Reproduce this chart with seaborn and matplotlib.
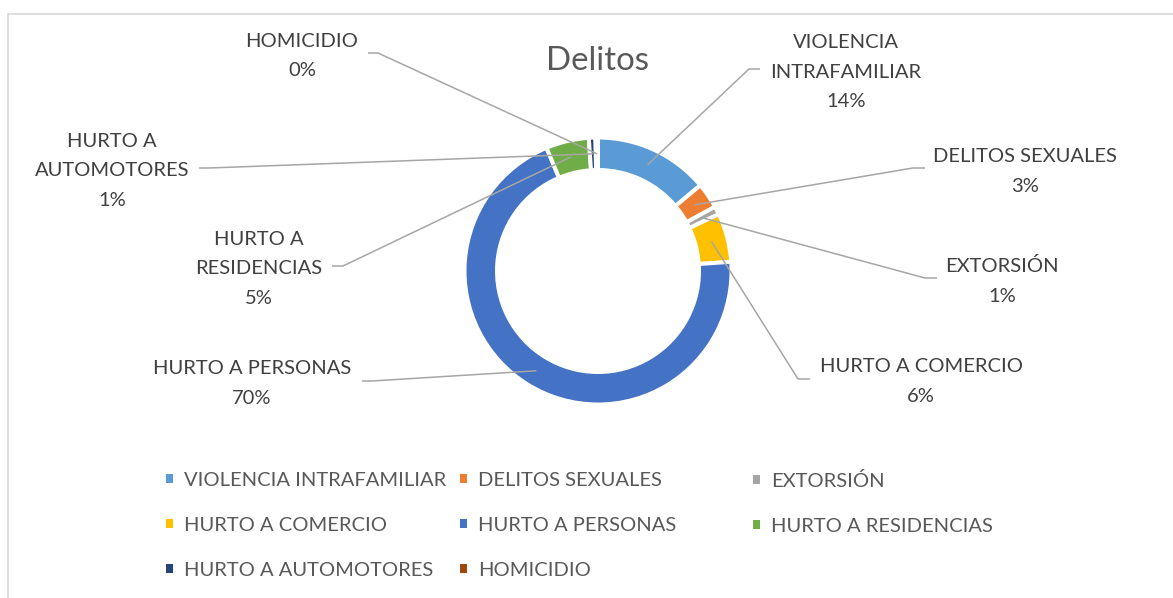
import matplotlib
matplotlib.use("Agg")
import numpy as np
import matplotlib.pyplot as plt
import matplotlib.patches as mpatches
from matplotlib.lines import Line2D
import seaborn as sns

# Crime categories and their share of the total (percent)
categories = [
    "VIOLENCIA INTRAFAMILIAR",
    "DELITOS SEXUALES",
    "EXTORSIÓN",
    "HURTO A COMERCIO",
    "HURTO A PERSONAS",
    "HURTO A RESIDENCIAS",
    "HURTO A AUTOMOTORES",
    "HOMICIDIO",
]
values = [13.9, 3.1, 1.0, 5.9, 69.8, 5.2, 0.8, 0.3]
colors = ["#5B9BD5", "#ED7D31", "#A5A5A5", "#FFC000",
          "#4472C4", "#70AD47", "#264478", "#9E480E"]
title = "Delitos"

# How each data label is broken into lines
label_lines = {
    "VIOLENCIA INTRAFAMILIAR": ["VIOLENCIA", "INTRAFAMILIAR"],
    "HURTO A RESIDENCIAS": ["HURTO A", "RESIDENCIAS"],
    "HURTO A AUTOMOTORES": ["HURTO A", "AUTOMOTORES"],
}

sns.set_theme(style="white")
plt.rcParams["font.family"] = ["Lato", "DejaVu Sans"]

W, H = 1173, 598
fig = plt.figure(figsize=(W / 100, H / 100), dpi=100)
ax = fig.add_axes([0, 0, 1, 1])
PT = 72 / 100  # points per pixel
FS = 14.5

# Donut ring
cx, cy = 598, H - 271
edge_px = 4.0
wedges, _ = ax.pie(
    values, colors=colors, startangle=90, counterclock=False,
    center=(cx, cy), radius=131.5 + edge_px / 2,
    wedgeprops=dict(width=28.5 + edge_px, edgecolor="white",
                    linewidth=edge_px * PT),
)
ax.set_xlim(0, W)
ax.set_ylim(0, H)
ax.set_aspect("equal")
ax.axis("off")

# Title
ax.text(597.5, H - 70, title, ha="center", va="baseline",
        fontsize=23.8, color="#595959")

# Data label layout: centre x, first-line cap centre y, leader start (x, y), elbow dx
label_layout = {
    "VIOLENCIA INTRAFAMILIAR": (846, 41, 760, 69, -11),
    "DELITOS SEXUALES": (1025, 155, 925, 168, -12),
    "EXTORSIÓN": (1002, 265, 937, 278, -12),
    "HURTO A COMERCIO": (921, 365, 810, 379, -12),
    "HURTO A PERSONAS": (252, 367, 362, 381, 10),
    "HURTO A RESIDENCIAS": (259, 238, 332, 266, 11),
    "HURTO A AUTOMOTORES": (112, 140, 199, 168, 10),
    "HOMICIDIO": (302, 40, 368, 53, 10),
}
total = sum(values)
pitch = 29.5
for w, cat, v in zip(wedges, categories, values):
    lx, ly, sx, sy, edx = label_layout[cat]
    lines = label_lines.get(cat, [cat]) + [f"{round(v / total * 100)}%"]
    for i, line in enumerate(lines):
        ax.text(lx, H - (ly + i * pitch + 7), line, ha="center", va="baseline",
                fontsize=FS, color="#404040")
    th = np.deg2rad((w.theta1 + w.theta2) / 2)
    rm = w.r - w.width / 2
    axp, ayp = cx + rm * np.cos(th), cy + rm * np.sin(th)
    ax.plot([sx, sx + edx, axp], [H - sy, H - sy, ayp],
            color="#A6A6A6", lw=1.1, solid_capstyle="butt", zorder=3)

# Legend in three fixed-width columns
handles = [mpatches.Patch(facecolor=c, edgecolor="none") for c in colors]
col_x = [166, 460, 753]
for j, x0 in enumerate(col_x):
    idx = list(range(j, len(categories), 3))
    fig.legend(
        [handles[i] for i in idx], [categories[i] for i in idx],
        loc="upper left", bbox_to_anchor=(x0, H - 472), bbox_transform=ax.transData,
        frameon=False, borderpad=0, borderaxespad=0, fontsize=FS,
        labelcolor="#595959", handlelength=0.34, handleheight=0.34,
        handletextpad=0.55, labelspacing=1.38,
    )

# Chart area border
fig.add_artist(Line2D([8 / W, 1], [1 - 14 / H, 1 - 14 / H],
                      transform=fig.transFigure, color="#D9D9D9", lw=1.2))
fig.add_artist(Line2D([8 / W, 8 / W], [0, 1 - 14 / H],
                      transform=fig.transFigure, color="#D9D9D9", lw=1.2))

fig.savefig("out.png", dpi=100, facecolor="white")
